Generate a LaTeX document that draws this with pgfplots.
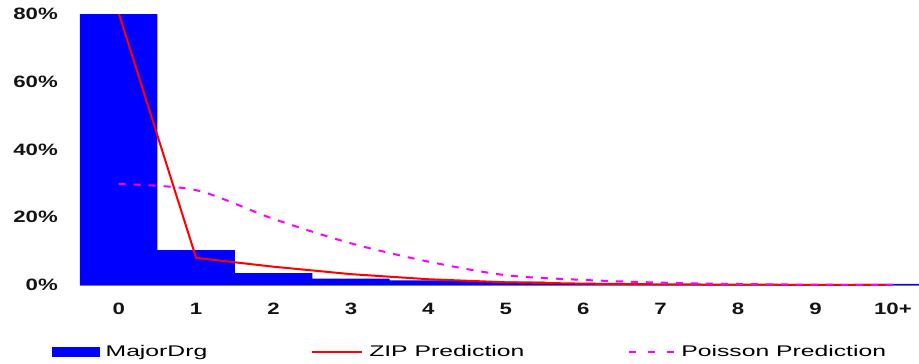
\documentclass[border=0pt]{standalone}
\usepackage{fontspec}
\setmainfont{Liberation Sans}
\newfontfamily\tickfont[FakeStretch=1.35]{Liberation Sans}
\newfontfamily\legfont[FakeStretch=1.6]{Liberation Sans}
\usepackage{pgfplots}
\pgfplotsset{compat=1.18}
\definecolor{barblue}{RGB}{0,0,255}
\definecolor{zipred}{RGB}{255,0,0}
\definecolor{poimag}{RGB}{255,0,255}
\definecolor{axisgray}{RGB}{130,130,170}
\definecolor{txt}{RGB}{20,20,20}
\begin{document}
\begin{tikzpicture}
\begin{axis}[
  scale only axis, width=840bp, height=271bp,
  xmin=-0.5, xmax=10.35, ymin=0, ymax=80,
  xtick={0,1,2,3,4,5,6,7,8,9,10},
  xticklabels={0,1,2,3,4,5,6,7,8,9,10+},
  ytick={0,20,40,60,80},
  yticklabels={0\%,20\%,40\%,60\%,80\%},
  major tick length=0pt,
  axis x line*=bottom, axis y line*=left,
  x axis line style={-, draw=axisgray, line width=1bp},
  y axis line style={-, draw=none},
  xticklabel style={text=txt, font=\tickfont\bfseries\fontsize{16.5}{18}\selectfont, inner sep=0pt, anchor=north, yshift=-18bp},
  yticklabel style={text=txt, font=\tickfont\bfseries\fontsize{16.5}{18}\selectfont, inner sep=0pt, anchor=east, xshift=-22bp},
  legend columns=3,
  legend style={draw=none, fill=none, at={(-0.0375,-0.247)}, anchor=west,
    font=\legfont\fontsize{15.5}{17}\selectfont,
    nodes={inner sep=0pt},
    /tikz/every even column/.append style={column sep=104bp},
    /tikz/every odd column/.append style={column sep=6bp}},
]
\addplot[ybar, bar width=1, fill=barblue, draw=none,
  legend image code/.code={\fill[barblue] (0bp,-5bp) rectangle (48bp,5bp);}]
  coordinates {(0,81) (1,10.3) (2,3.5) (3,1.9) (4,1.4) (5,1.0) (6,0.4) (7,0.25) (8,0.15) (9,0.1) (10,0.3)};
\addlegendentry{MajorDrg}
\addplot[zipred, line width=2bp, mark=none,
  legend image code/.code={\draw[zipred, line width=2bp] (0bp,0bp) -- (50bp,0bp);}]
  coordinates {(0,80.3) (1,8.0) (2,5.4) (3,3.2) (4,1.7) (5,0.8) (6,0.4) (7,0.2) (8,0.1) (9,0.05) (10,0.02)};
\addlegendentry{ZIP Prediction}
\addplot[poimag, line width=2bp, mark=none, smooth, dash pattern=on 7bp off 8bp,
  legend image code/.code={\draw[poimag, line width=2bp, dash pattern=on 7bp off 12bp] (0bp,0bp) -- (45bp,0bp);}]
  coordinates {(0,29.8) (1,28.0) (2,19.5) (3,12.3) (4,6.9) (5,2.9) (6,1.5) (7,0.7) (8,0.3) (9,0.1) (10,0.05)};
\addlegendentry{Poisson Prediction}
\end{axis}
\pgfresetboundingbox
\useasboundingbox ([xshift=-80bp,yshift=-79bp]current axis.south west) rectangle ([xshift=839bp,yshift=285bp]current axis.south west);
\end{tikzpicture}
\end{document}
